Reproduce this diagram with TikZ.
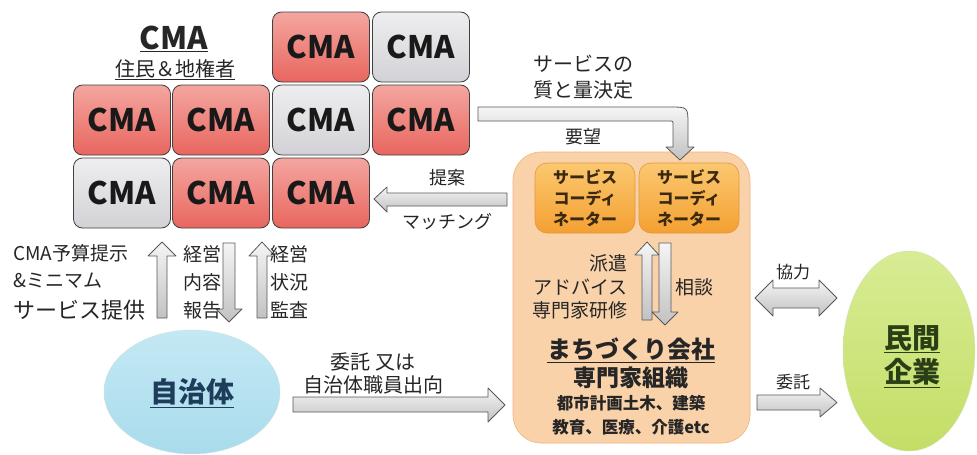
\documentclass[tikz,border=0pt]{standalone}
\usepackage{fontspec}
\setmainfont{Noto Sans CJK JP}
\usetikzlibrary{shapes.geometric}
\definecolor{redtop}{HTML}{F4A6A0}
\definecolor{redbot}{HTML}{E8665F}
\definecolor{graytop}{HTML}{EEEEF0}
\definecolor{graybot}{HTML}{D2D2D6}
\definecolor{orbox}{HTML}{FAD2A9}
\definecolor{orline}{HTML}{F2B27C}
\definecolor{sctop}{HTML}{FBC870}
\definecolor{scbot}{HTML}{F4A032}
\definecolor{scline}{HTML}{E4973A}
\definecolor{bluefill}{HTML}{A9DCEC}
\definecolor{bluetop}{HTML}{C4E8F4}
\definecolor{bluetext}{HTML}{1E3D5A}
\definecolor{greenfill}{HTML}{C3DE66}
\definecolor{greentop}{HTML}{D8EC95}
\definecolor{greentext}{HTML}{2A3F16}
\definecolor{sctext}{HTML}{3A2810}
\begin{document}
\begin{tikzpicture}[x=1pt,y=-1pt,
  tile/.style={rounded corners=9pt, minimum width=97pt, minimum height=70pt,
    draw=black!75, line width=0.8pt, inner sep=0pt, text=black!90,
    font=\fontsize{31}{31}\selectfont\bfseries},
  redtile/.style={tile, top color=redtop, bottom color=redbot},
  graytile/.style={tile, top color=graytop, bottom color=graybot},
  scbox/.style={rounded corners=12pt, minimum width=100pt, minimum height=70pt,
    top color=sctop, bottom color=scbot, draw=scline, line width=0.6pt,
    inner sep=0pt, align=center, text=sctext,
    font=\fontsize{16}{21}\selectfont\bfseries},
  blk/.style={draw=black!65, line width=0.8pt, top color=black!4, bottom color=black!24, line join=round},
  txt/.style={inner sep=0pt, text=black!85, align=center}]
\useasboundingbox (0,0) rectangle (977,455);
\fill[white] (0,0) rectangle (977,455);

% CMA title
\node[txt, font=\fontsize{31}{31}\selectfont\bfseries] (cmatitle) at (174,39) {\underline{CMA}};
\node[txt, font=\fontsize{20}{20}\selectfont] (jumin) at (175,70) {\underline{住民＆地権者}};

% CMA tiles
\node[redtile]  (t12) at (321,47)  {CMA};
\node[graytile] (t13) at (421,47)  {CMA};
\node[redtile]  (t21) at (122,120) {CMA};
\node[redtile]  (t22) at (221,120) {CMA};
\node[graytile] (t23) at (321,120) {CMA};
\node[redtile]  (t24) at (421,120) {CMA};
\node[graytile] (t31) at (122,193) {CMA};
\node[redtile]  (t32) at (221,193) {CMA};
\node[redtile]  (t33) at (321,193) {CMA};

% machizukuri company box
\node[rounded corners=28pt, minimum width=237pt, minimum height=291pt,
  fill=orbox, draw=orline, line width=0.6pt] (mc) at (631.5,297.5) {};
\node[scbox] (sc1) at (585,198) {サービス\\コーディ\\ネーター};
\node[scbox] (sc2) at (689,198) {サービス\\コーディ\\ネーター};

% ellipses
\node[ellipse, minimum width=176pt, minimum height=124pt, inner sep=0pt,
  top color=bluetop, bottom color=bluefill, draw=bluefill!80!black!40] (jt) at (192,392) {};
\node[txt, text=bluetext, font=\fontsize{28}{28}\selectfont\bfseries] (jtt) at (192,393) {\underline{自治体}};
\node[ellipse, minimum width=132pt, minimum height=200pt, inner sep=0pt,
  top color=greentop, bottom color=greenfill, draw=greenfill!80!black!40] (mk) at (909,351) {};
\node[txt, text=greentext, font=\fontsize{28}{28}\selectfont\bfseries] (mk1) at (912,339) {\underline{民間}};
\node[txt, text=greentext, font=\fontsize{28}{28}\selectfont\bfseries] (mk2) at (912,373) {\underline{企業}};

% bent arrow
\draw[blk] (478,107) -- (670,107) .. controls (688,107) .. (688,125) -- (688,147) -- (694,147)
  -- (680,160) -- (666,147) -- (673,147) -- (673,125) .. controls (673,121) .. (669,121) -- (478,121) -- cycle;
\node[txt, font=\fontsize{20}{26}\selectfont] (shitsu) at (583,77) {サービスの\\質と量決定};
\node[txt, font=\fontsize{18}{18}\selectfont] (youbou) at (583,137) {要望};

% teian arrow
\draw[blk] (374,199) -- (387,187) -- (387,193) -- (507,193) -- (507,206) -- (387,206) -- (387,212) -- cycle;
\node[txt, font=\fontsize{18}{18}\selectfont] (teian) at (447,178) {提案};
\node[txt, font=\fontsize{18}{18}\selectfont] (match) at (447,222) {マッチング};

% vertical arrows CMA <-> jichitai
\draw[blk] (162,242) -- (176,256) -- (167,256) -- (167,318) -- (157,318) -- (157,256) -- (148,256) -- cycle;
\draw[blk] (223,243) -- (235,243) -- (235,309) -- (242,309) -- (229,322) -- (216,309) -- (223,309) -- cycle;
\draw[blk] (262,242) -- (275,256) -- (267,256) -- (267,318) -- (257,318) -- (257,256) -- (249,256) -- cycle;
\node[txt, anchor=west, font=\fontsize{19}{19}\selectfont] (yosan) at (13,253) {CMA予算提示};
\node[txt, anchor=west, font=\fontsize{19}{19}\selectfont] (minimum) at (13,281) {\&ミニマム};
\node[txt, anchor=west, font=\fontsize{22}{22}\selectfont] (teikyo) at (13,310) {サービス提供};
\node[txt, font=\fontsize{19}{28}\selectfont] (houkoku) at (202,282) {経営\\内容\\報告};
\node[txt, font=\fontsize{19}{28}\selectfont] (kansa) at (289,282) {経営\\状況\\監査};

% itaku arrow
\draw[blk] (293,397) -- (488,397) -- (488,388) -- (505,405) -- (488,422) -- (488,412) -- (293,412) -- cycle;
\node[txt, font=\fontsize{20}{23}\selectfont] (itaku1) at (373,373) {委託 又は\\自治体職員出向};

% inner arrows
\draw[blk] (647,242) -- (659,255) -- (652,255) -- (652,320) -- (642,320) -- (642,255) -- (635,255) -- cycle;
\draw[blk] (659,243) -- (671,243) -- (671,312) -- (678,312) -- (665,325) -- (652,312) -- (659,312) -- cycle;
\node[txt, anchor=east, font=\fontsize{19}{23.5}\selectfont, align=right] (haken) at (628,287) {派遣\\アドバイス\\専門家研修};
\node[txt, anchor=west, font=\fontsize{19}{19}\selectfont] (soudan) at (675,287) {相談};

\node[txt, font=\fontsize{24}{24}\selectfont\bfseries] (mcname) at (631,350) {\underline{まちづくり会社}};
\node[txt, font=\fontsize{23}{23}\selectfont\bfseries] (senmon) at (631,378) {専門家組織};
\node[txt, font=\fontsize{16.5}{24}\selectfont\bfseries] (fields) at (631,415) {都市計画土木、建築\\教育、医療、介護etc};

% kyouryoku / itaku to private companies
\draw[blk] (755,298) -- (773,280) -- (773,288) -- (819,288) -- (819,280) -- (837,298) -- (819,316) -- (819,308) -- (773,308) -- (773,316) -- cycle;
\node[txt, font=\fontsize{17}{17}\selectfont] (kyou) at (793,272) {協力};
\draw[blk] (757,395) -- (820,395) -- (820,388) -- (837,402.5) -- (820,417) -- (820,410) -- (757,410) -- cycle;
\node[txt, font=\fontsize{17}{17}\selectfont] (itaku2) at (793,382) {委託};
\end{tikzpicture}
\end{document}
